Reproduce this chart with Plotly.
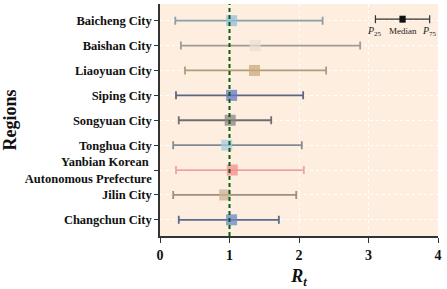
import plotly.graph_objects as go

regions = ["Baicheng City", "Baishan City", "Liaoyuan City", "Siping City", "Songyuan City",
           "Tonghua City", "Yanbian Korean <br>Autonomous Prefecture", "Jilin City", "Changchun City"]
p25 = [0.22, 0.30, 0.36, 0.23, 0.27, 0.19, 0.23, 0.19, 0.27]
median = [1.03, 1.37, 1.36, 1.03, 1.01, 0.96, 1.04, 0.93, 1.03]
p75 = [2.34, 2.88, 2.39, 2.06, 1.60, 2.04, 2.07, 1.96, 1.71]

marker_colors = ["#93bfdc", "#e9ddd6", "#c9a97c", "#6378c4", "#8a8480",
                 "#a6cbe0", "#f58c8c", "#c9b396", "#6a86c9"]
bar_colors = ["#8c9ea6", "#a39a93", "#ae9c7c", "#5b6784", "#6f6f6f",
              "#838b93", "#f2a2a2", "#a08f78", "#5c6a8a"]

BG = "#fdeee0"
FONT = "Liberation Serif, Times New Roman, serif"

fig = go.Figure()
for i, r in enumerate(regions):
    fig.add_trace(go.Scatter(
        x=[median[i]], y=[r], mode="markers",
        marker=dict(symbol="square", size=11, color=marker_colors[i], opacity=0.75,
                    line=dict(width=0)),
        error_x=dict(type="data", symmetric=False,
                     array=[p75[i] - median[i]], arrayminus=[median[i] - p25[i]],
                     color=bar_colors[i], thickness=1.8, width=4),
        showlegend=False, hoverinfo="skip"))

shapes = [
    # inset legend box covering gridlines
    dict(type="rect", xref="x", yref="paper", x0=3.04, x1=4.0, y0=0.85, y1=1.0,
         fillcolor=BG, line=dict(width=0), layer="between"),
    # reference line at Rt = 1
    dict(type="line", xref="x", yref="paper", x0=1, x1=1, y0=0, y1=1,
         line=dict(color="#0b5e0b", width=2, dash="4px,3px"), layer="above"),
    # inset legend key
    dict(type="line", xref="x", yref="y", x0=3.10, x1=3.88, y0=-0.06, y1=-0.06,
         line=dict(color="#333333", width=1.2)),
    dict(type="line", xref="x", yref="y", x0=3.10, x1=3.10, y0=-0.22, y1=0.10,
         line=dict(color="#333333", width=1.2)),
    dict(type="line", xref="x", yref="y", x0=3.88, x1=3.88, y0=-0.22, y1=0.10,
         line=dict(color="#333333", width=1.2)),
    dict(type="rect", xref="x", yref="y", x0=3.445, x1=3.535, y0=-0.2, y1=0.08,
         fillcolor="#111111", line=dict(width=0)),
]
annotations = [
    dict(text="<i>P</i><sub>25</sub>", x=3.08, y=0.42, xref="x", yref="y", showarrow=False,
         font=dict(family=FONT, size=10, color="#222")),
    dict(text="Median", x=3.49, y=0.40, xref="x", yref="y", showarrow=False,
         font=dict(family=FONT, size=9, color="#222")),
    dict(text="<i>P</i><sub>75</sub>", x=3.88, y=0.42, xref="x", yref="y", showarrow=False,
         font=dict(family=FONT, size=10, color="#222")),
]

fig.update_layout(
    width=447, height=289,
    margin=dict(l=160, r=9, t=4, b=53),
    paper_bgcolor="white", plot_bgcolor=BG,
    font=dict(family=FONT, color="#111"),
    shapes=shapes, annotations=annotations,
    xaxis=dict(range=[0, 4], tickvals=[0, 1, 2, 3, 4], showgrid=True, gridcolor="white",
               griddash="dot", gridwidth=1.2, zeroline=False, showline=True, linecolor="#333",
               linewidth=1.5, ticks="outside", ticklen=5, tickcolor="#333",
               tickfont=dict(family=FONT, size=14, color="#111", weight="bold"),
               title=dict(text="<b><i>R</i><sub><i>t</i></sub></b>", standoff=9,
                          font=dict(family=FONT, size=18, color="#111"))),
    yaxis=dict(type="category", categoryorder="array", categoryarray=regions,
               range=[8.65, -0.67], showgrid=True, gridcolor="white", griddash="dot",
               gridwidth=1.2, zeroline=False, showline=True, linecolor="#333", linewidth=1.5,
               ticks="outside", ticklen=4, tickcolor="#333",
               tickfont=dict(family=FONT, size=12.5, color="#111", weight="bold"),
               title=dict(text="<b>Regions</b>", standoff=8,
                          font=dict(family=FONT, size=18, color="#111"))),
)

fig.write_html("out.html", config={"displayModeBar": False},
               post_script="document.body.style.margin='0';document.body.style.overflow='hidden';")
